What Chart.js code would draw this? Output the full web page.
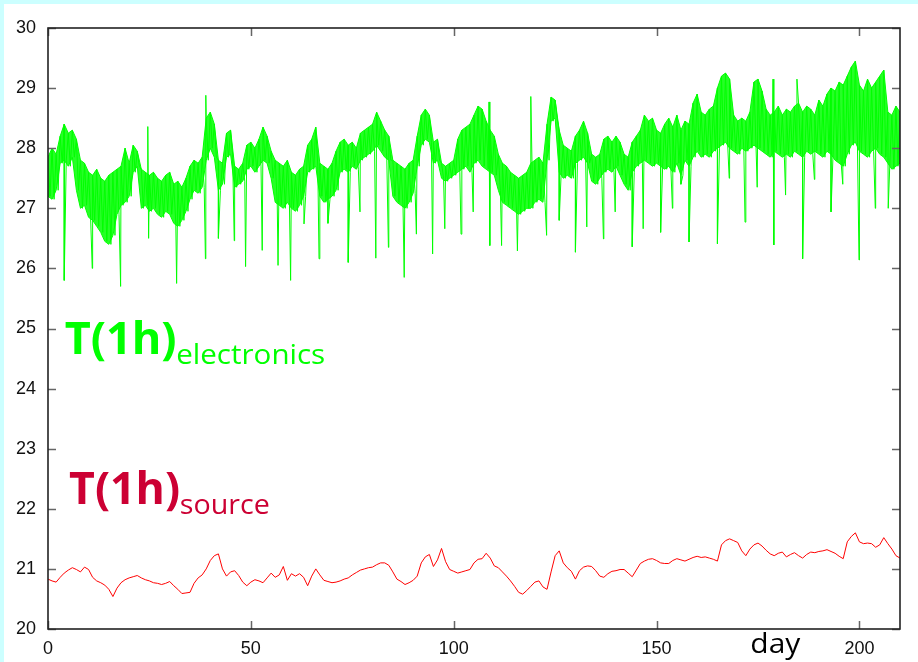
<!DOCTYPE html>
<html>
<head>
<meta charset="utf-8">
<script src="https://cdn.jsdelivr.net/npm/chart.js@4.4.1/dist/chart.umd.min.js"></script>
<style>
  html, body { margin: 0; padding: 0; background: #ccffff; width: 918px; height: 662px; overflow: hidden; }
  #wrap { position: absolute; left: 4px; top: 4px; width: 914px; height: 658px; background: #ffffff; }
  canvas { display: block; }
</style>
</head>
<body>
<div id="wrap"><canvas id="c" width="914" height="658"></canvas></div>
<script>
// Hourly temperatures over ~210 days: electronics (dense, noisy band) and source.
const xTicks = [0, 50, 100, 150, 200];
const yTicks = [20, 21, 22, 23, 24, 25, 26, 27, 28, 29, 30];

// Electronics temperature: daily upper and lower extent of the hourly band (day 0..210)
const elecHigh = [
  27.85, 28.00, 27.90, 28.20, 28.40, 28.25, 28.30, 28.15, 27.80, 27.75,
  27.60, 27.55, 27.65, 27.50, 27.45, 27.55, 27.60, 27.65, 27.70, 28.00,
  27.75, 28.05, 27.95, 27.65, 27.60, 27.55, 27.60, 27.50, 27.45, 27.55,
  27.60, 27.40, 27.45, 27.35, 27.50, 27.70, 27.80, 27.75, 27.85, 28.50,
  28.60, 28.40, 27.80, 27.75, 28.25, 28.30, 27.70, 27.65, 27.75, 28.05,
  28.10, 28.00, 28.15, 28.35, 28.20, 27.95, 27.80, 27.75, 27.70, 27.80,
  27.60, 27.55, 27.65, 27.70, 28.05, 28.15, 28.35, 27.75, 27.70, 27.65,
  27.75, 27.95, 28.10, 28.15, 28.05, 28.10, 28.00, 28.25, 28.30, 28.35,
  28.40, 28.60, 28.45, 28.30, 28.20, 27.80, 27.75, 27.70, 27.65, 27.75,
  27.80, 28.20, 28.55, 28.65, 28.55, 28.10, 28.15, 27.75, 27.70, 27.75,
  27.80, 28.15, 28.30, 28.35, 28.40, 28.55, 28.70, 28.65, 28.45, 28.30,
  28.20, 27.90, 27.75, 27.70, 27.60, 27.55, 27.50, 27.55, 27.60, 27.75,
  27.80, 27.85, 27.75, 28.40, 28.85, 28.80, 28.30, 28.05, 28.00, 27.95,
  28.20, 28.30, 28.45, 28.25, 27.90, 27.85, 27.90, 28.15, 28.20, 28.10,
  28.20, 28.10, 27.90, 27.85, 28.10, 28.20, 28.30, 28.55, 28.45, 28.50,
  28.30, 28.25, 28.40, 28.50, 28.35, 28.55, 28.30, 28.45, 28.40, 28.75,
  28.90, 28.60, 28.55, 28.65, 28.70, 29.00, 29.20, 29.25, 29.15, 28.55,
  28.45, 28.50, 28.45, 28.60, 29.10, 29.15, 28.95, 28.65, 28.55, 28.60,
  28.70, 28.55, 28.65, 28.60, 28.70, 28.75, 28.60, 28.70, 28.65, 28.55,
  28.80, 28.70, 28.90, 29.00, 28.95, 29.10, 29.05, 29.20, 29.35, 29.45,
  29.05, 28.95, 29.15, 29.00, 29.10, 29.20, 29.30, 28.60, 28.55, 28.70,
  28.60
];
const elecLow = [
  27.20, 27.15, 27.30, 27.75, 27.80, 27.70, 27.85, 27.30, 27.00, 27.05,
  26.85, 26.80, 26.70, 26.60, 26.45, 26.40, 26.55, 26.90, 27.05, 27.10,
  27.20, 27.60, 27.70, 27.00, 27.05, 26.95, 27.00, 26.90, 26.85, 26.95,
  26.90, 26.75, 26.70, 26.80, 26.95, 27.15, 27.30, 27.25, 27.35, 27.80,
  28.00, 27.85, 27.30, 27.40, 27.85, 27.90, 27.35, 27.40, 27.45, 27.65,
  27.70, 27.60, 27.70, 27.80, 27.75, 27.50, 27.10, 27.05, 27.00, 27.10,
  27.00, 26.95, 27.05, 27.20, 27.60, 27.65, 27.70, 27.20, 27.10, 27.15,
  27.20, 27.30, 27.60, 27.65, 27.60, 27.70, 27.65, 27.80, 27.85, 27.90,
  27.95, 28.05, 27.95, 27.85, 27.80, 27.20, 27.10, 27.05, 27.00, 27.10,
  27.25, 27.70, 28.05, 28.15, 28.10, 27.75, 27.80, 27.50, 27.45, 27.50,
  27.55, 27.60, 27.65, 27.70, 27.60, 27.75, 27.80, 27.70, 27.65, 27.60,
  27.55, 27.30, 27.10, 27.05, 27.00, 26.95, 26.90, 26.95, 27.00, 27.00,
  27.10, 27.15, 27.10, 27.80, 28.45, 28.50, 27.60, 27.50, 27.55, 27.50,
  27.75, 27.80, 27.85, 27.75, 27.45, 27.40, 27.50, 27.60, 27.65, 27.60,
  27.70, 27.55, 27.40, 27.30, 27.60, 27.70, 27.75, 27.80, 27.75, 27.70,
  27.75, 27.70, 27.65, 27.70, 27.60, 27.75, 27.55, 27.80, 27.70, 27.85,
  27.95, 27.85, 27.90, 27.85, 27.95, 28.00, 28.05, 28.10, 28.00, 27.95,
  27.90, 28.00, 27.95, 28.00, 28.05, 28.00, 27.95, 27.90, 27.85, 27.95,
  27.90, 27.85, 27.90, 27.85, 27.95, 27.90, 27.85, 27.95, 27.90, 27.95,
  27.90, 27.85, 27.95, 27.90, 27.80, 27.75, 27.70, 27.90, 28.05, 28.10,
  27.95, 27.90, 27.85, 27.95, 28.00, 27.90, 27.85, 27.75, 27.65, 27.70,
  27.75
];
// Short hourly excursions [day, °C]
const elecSpikes = [
  [4.0, 25.80], [10.9, 26.00], [17.9, 25.70], [24.6, 28.36], [24.8, 26.50],
  [31.7, 25.75], [38.8, 26.16], [38.9, 28.88], [42.0, 26.50], [45.9, 26.46],
  [48.7, 26.03], [52.8, 26.30], [56.7, 26.05], [59.8, 25.80], [63.1, 26.74],
  [66.8, 26.16], [69.0, 26.75], [74.0, 26.10], [76.9, 26.94], [80.8, 26.17],
  [83.9, 26.35], [87.8, 25.85], [90.8, 26.57], [94.8, 26.24], [97.8, 26.66],
  [101.8, 26.57], [104.8, 26.94], [108.7, 28.77], [108.9, 26.38], [111.8, 26.38],
  [115.7, 26.29], [119.0, 28.86], [122.9, 26.55], [126.0, 26.80], [130.0, 26.27],
  [132.8, 26.69], [136.9, 26.49], [139.8, 26.94], [144.0, 26.36], [146.7, 26.66],
  [151.0, 26.60], [153.9, 27.00], [156.0, 27.40], [158.0, 26.44], [165.0, 26.41],
  [167.9, 27.50], [171.8, 26.77], [174.8, 27.35], [178.7, 29.15], [178.9, 26.39],
  [181.8, 27.22], [184.6, 29.15], [186.0, 26.16], [188.9, 27.48], [193.0, 26.94],
  [195.9, 27.40], [199.9, 26.14], [203.9, 27.00], [207.1, 27.00]
];

// Source temperature, one value per day (day 0..210)
const sourceTemp = [
  20.83, 20.80, 20.78, 20.86, 20.93, 20.98, 21.02, 20.99, 20.95, 21.03,
  20.99, 20.86, 20.80, 20.77, 20.73, 20.66, 20.54, 20.68, 20.77, 20.82,
  20.85, 20.87, 20.89, 20.85, 20.82, 20.80, 20.77, 20.76, 20.74, 20.76,
  20.79, 20.72, 20.66, 20.59, 20.60, 20.61, 20.76, 20.85, 20.90, 21.00,
  21.14, 21.22, 21.25, 21.00, 20.88, 20.95, 20.97, 20.89, 20.78, 20.72,
  20.78, 20.82, 20.80, 20.77, 20.85, 20.93, 20.86, 20.90, 21.04, 20.81,
  20.92, 20.88, 20.92, 20.86, 20.72, 20.88, 21.00, 20.90, 20.81, 20.79,
  20.77, 20.78, 20.80, 20.83, 20.85, 20.90, 20.94, 20.98, 21.00, 21.02,
  21.03, 21.07, 21.10, 21.10, 21.06, 20.95, 20.83, 20.79, 20.74, 20.77,
  20.81, 20.88, 21.10, 21.20, 21.24, 21.04, 21.15, 21.34, 21.12, 20.99,
  20.96, 20.93, 20.95, 20.97, 20.99, 21.10, 21.16, 21.17, 21.26, 21.18,
  21.05, 21.02, 20.95, 20.88, 20.80, 20.71, 20.61, 20.58, 20.64, 20.71,
  20.78, 20.80, 20.70, 20.66, 20.95, 21.22, 21.30, 21.10, 21.02, 20.96,
  20.83, 20.97, 21.03, 21.05, 21.04, 20.97, 20.88, 20.86, 20.92, 20.96,
  20.97, 20.99, 20.99, 20.93, 20.87, 20.98, 21.09, 21.13, 21.16, 21.17,
  21.14, 21.10, 21.09, 21.09, 21.14, 21.17, 21.15, 21.13, 21.16, 21.19,
  21.21, 21.19, 21.20, 21.18, 21.16, 21.13, 21.40, 21.47, 21.50, 21.47,
  21.44, 21.30, 21.22, 21.33, 21.40, 21.43, 21.38, 21.31, 21.25, 21.22,
  21.26, 21.28, 21.20, 21.24, 21.27, 21.22, 21.18, 21.24, 21.28, 21.27,
  21.29, 21.30, 21.32, 21.29, 21.26, 21.21, 21.17, 21.45, 21.54, 21.60,
  21.45, 21.42, 21.43, 21.42, 21.36, 21.40, 21.52, 21.42, 21.33, 21.22,
  21.18
];

const GREEN = '#00ff00';

// Daily envelope of the electronics trace (filled between upper and lower).
const bandUpper = elecHigh.map((v, d) => ({ x: d, y: v }));
const bandLower = elecLow.map((v, d) => ({ x: d, y: v }));

// Trace: upper value at the start of each day, lower value half a day later,
// with the hourly excursions merged in.
const elecPoints = [];
elecHigh.forEach((v, d) => {
  elecPoints.push({ x: d, y: v });
  elecPoints.push({ x: d + 0.5, y: elecLow[d] });
});
elecSpikes.forEach(([d, v]) => elecPoints.push({ x: d, y: v }));
elecPoints.sort((a, b) => a.x - b.x);

const sourcePoints = sourceTemp.map((v, d) => ({ x: d, y: v }));

const TICK_FONT = { family: "'Liberation Sans', Arial, sans-serif", size: 18 };

// Draw text stretched/squeezed horizontally to a given width.
function drawFitted(ctx, text, x, baseline, font, width, color) {
  ctx.save();
  ctx.font = font;
  const w = ctx.measureText(text).width;
  ctx.translate(x, baseline);
  ctx.scale(width / w, 1);
  ctx.fillStyle = color;
  ctx.textAlign = 'left';
  ctx.textBaseline = 'alphabetic';
  ctx.fillText(text, 0, 0);
  ctx.restore();
}

// Frame around the plot with inward (mirrored) tick marks.
const framePlugin = {
  id: 'frame',
  afterDatasetsDraw(chart) {
    const { ctx, chartArea: a, scales } = chart;
    const len = 8;
    ctx.save();
    ctx.lineWidth = 1.5;
    ctx.strokeStyle = '#666';
    ctx.beginPath();
    yTicks.forEach(v => {
      const y = Math.round(scales.y.getPixelForValue(v)) + 0.5;
      ctx.moveTo(a.left, y); ctx.lineTo(a.left + len, y);
      ctx.moveTo(a.right, y); ctx.lineTo(a.right - len, y);
    });
    xTicks.forEach(v => {
      const x = Math.round(scales.x.getPixelForValue(v)) + 0.5;
      ctx.moveTo(x, a.bottom); ctx.lineTo(x, a.bottom - len);
      ctx.moveTo(x, a.top); ctx.lineTo(x, a.top + len);
    });
    ctx.stroke();
    ctx.strokeStyle = '#222';
    ctx.lineWidth = 1.6;
    ctx.strokeRect(a.left, a.top, a.right - a.left, a.bottom - a.top);
    ctx.restore();
  }
};

// Series names and the axis word.
const labelPlugin = {
  id: 'labels',
  afterDraw(chart) {
    const { ctx, scales } = chart;
    const X = v => scales.x.getPixelForValue(v);
    const Y = v => scales.y.getPixelForValue(v);
    const big = "bold 44px 'Open Sans', sans-serif";
    const sub = "28px 'Open Sans', sans-serif";
    drawFitted(ctx, 'T(1h)', X(4.1), Y(24.58), big, 112, GREEN);
    drawFitted(ctx, 'electronics', X(31.6), Y(24.415), sub, 149, GREEN);
    drawFitted(ctx, 'T(1h)', X(5.2), Y(22.08), big, 111, '#cc0033');
    drawFitted(ctx, 'source', X(32.5), Y(21.915), sub, 90, '#cc0033');
    ctx.save();
    ctx.font = "28px 'Open Sans', sans-serif";
    ctx.fillStyle = '#000';
    ctx.textBaseline = 'alphabetic';
    const w = ctx.measureText('day').width;
    ctx.translate(X(173.1), chart.chartArea.bottom + 24);
    ctx.scale(50 / w, 1);
    ctx.fillText('day', 0, 0);
    ctx.restore();
  }
};

new Chart(document.getElementById('c'), {
  type: 'line',
  data: {
    datasets: [
      {
        label: 'electronics band (upper)',
        data: bandUpper,
        borderColor: GREEN,
        borderWidth: 1,
        backgroundColor: 'rgba(0,255,0,0.85)',
        pointRadius: 0,
        tension: 0,
        fill: '+1'
      },
      {
        label: 'electronics band (lower)',
        data: bandLower,
        borderColor: GREEN,
        borderWidth: 1,
        pointRadius: 0,
        tension: 0,
        fill: false
      },
      {
        label: 'T(1h) electronics',
        data: elecPoints,
        borderColor: GREEN,
        borderWidth: 1,
        pointRadius: 0,
        tension: 0,
        fill: false
      },
      {
        label: 'T(1h) source',
        data: sourcePoints,
        borderColor: '#ff0000',
        borderWidth: 1,
        pointRadius: 0,
        tension: 0,
        fill: false
      }
    ]
  },
  options: {
    responsive: false,
    animation: false,
    devicePixelRatio: 1,
    layout: { padding: { left: 0, top: 24, right: 18, bottom: 0 } },
    plugins: { legend: { display: false }, tooltip: { enabled: false } },
    scales: {
      x: {
        type: 'linear',
        min: 0,
        max: 210,
        afterFit: s => { s.height = 33; },
        afterBuildTicks: s => { s.ticks = xTicks.map(v => ({ value: v })); },
        ticks: { font: TICK_FONT, color: '#111', padding: 9, maxRotation: 0, autoSkip: false },
        grid: { display: false, drawTicks: false },
        border: { display: false }
      },
      y: {
        type: 'linear',
        min: 20,
        max: 30,
        afterFit: s => { s.width = 44; },
        afterBuildTicks: s => { s.ticks = yTicks.map(v => ({ value: v })); },
        ticks: { font: TICK_FONT, color: '#111', padding: 12, autoSkip: false },
        grid: { display: false, drawTicks: false },
        border: { display: false }
      }
    }
  },
  plugins: [framePlugin, labelPlugin]
});
</script>
</body>
</html>
